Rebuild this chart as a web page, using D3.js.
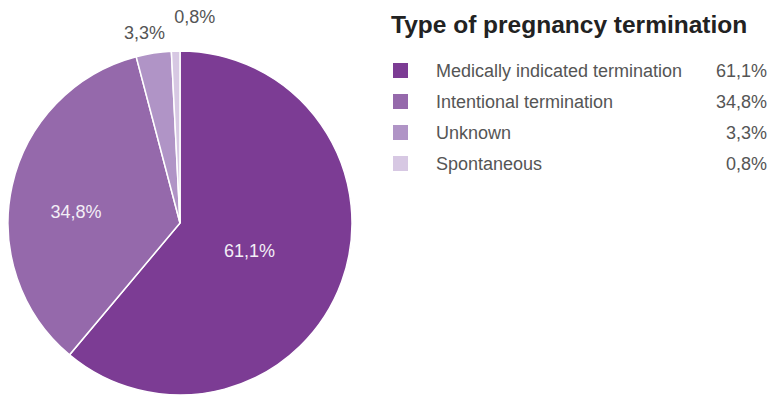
<!DOCTYPE html>
<html lang="en">
<head>
<meta charset="UTF-8">
<title>Type of pregnancy termination</title>
<script src="https://cdn.jsdelivr.net/npm/d3@7"></script>
<style>
  * { margin: 0; padding: 0; }
  body { background: #fff; }
  text { font-family: "Liberation Sans", Arial, sans-serif; }
</style>
</head>
<body>
<svg></svg>
<script>
  const categories = ['Medically indicated termination', 'Intentional termination', 'Unknown', 'Spontaneous'];
  const values = [61.1, 34.8, 3.3, 0.8];
  const valueLabels = ['61,1%', '34,8%', '3,3%', '0,8%'];
  const colors = ['#7c3c94', '#9569ab', '#b094c6', '#d7c8e3'];

  const width = 770, height = 396;
  const svg = d3.select('svg').attr('width', width).attr('height', height);

  const cx = 180, cy = 223, r = 172;

  const pie = d3.pie().sort(null).value(d => d.value);
  const arcs = pie(categories.map((c, i) => ({ name: c, value: values[i], label: valueLabels[i], color: colors[i] })));
  const arc = d3.arc().innerRadius(0).outerRadius(r);

  const g = svg.append('g').attr('transform', `translate(${cx},${cy})`);

  g.selectAll('path')
    .data(arcs).enter()
    .append('path')
    .attr('d', arc)
    .attr('fill', d => d.data.color)
    .attr('stroke', '#fff')
    .attr('stroke-width', 1.5);

  // label radius (relative to r) and nudge per slice
  const labelPos = [[0.43, 0, 2], [0.62, 0, 12], [1.12, -6, 0], [1.2, 20, 0]];
  g.selectAll('text.lbl')
    .data(arcs).enter()
    .append('text')
    .attr('class', 'lbl')
    .attr('transform', (d, i) => {
      const a = (d.startAngle + d.endAngle) / 2;
      const rr = r * labelPos[i][0];
      return `translate(${Math.sin(a) * rr + labelPos[i][1]},${-Math.cos(a) * rr + labelPos[i][2]})`;
    })
    .attr('text-anchor', 'middle')
    .attr('dy', '0.35em')
    .attr('font-size', 18)
    .attr('fill', (d, i) => i < 2 ? '#f3eef6' : '#555')
    .text(d => d.data.label);

  // legend
  svg.append('text')
    .attr('x', 391).attr('y', 33)
    .attr('font-size', 24.5).attr('font-weight', 'bold')
    .attr('fill', '#222')
    .text('Type of pregnancy termination');

  const rowY = d3.scaleBand().domain(categories).range([55, 179]);
  const leg = svg.selectAll('g.leg')
    .data(arcs).enter()
    .append('g')
    .attr('class', 'leg')
    .attr('transform', d => `translate(0,${rowY(d.data.name) + rowY.bandwidth() / 2})`);

  leg.append('rect')
    .attr('x', 393).attr('y', -7.5)
    .attr('width', 15).attr('height', 15)
    .attr('fill', d => d.data.color);

  leg.append('text')
    .attr('x', 436).attr('dy', '0.35em')
    .attr('font-size', 18).attr('fill', '#555')
    .text(d => d.data.name);

  leg.append('text')
    .attr('x', 767).attr('dy', '0.35em')
    .attr('text-anchor', 'end')
    .attr('font-size', 18).attr('fill', '#555')
    .text(d => d.data.label);
</script>
</body>
</html>
